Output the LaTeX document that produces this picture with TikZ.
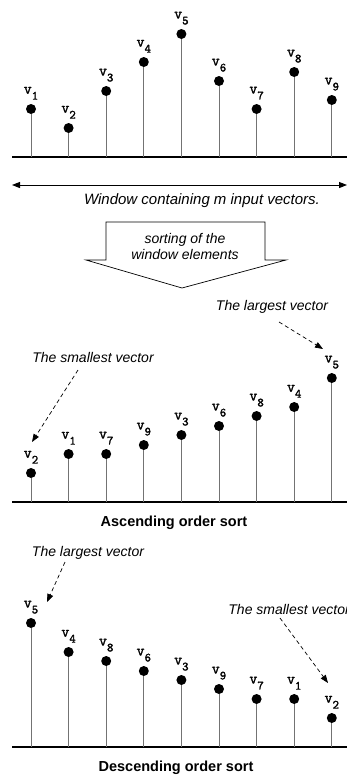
\documentclass[tikz,border=0pt]{standalone}
\usepackage{fontspec}
\setmainfont{Liberation Sans}
\newfontfamily\vecfont[FakeBold=1.6]{Latin Modern Mono}
\usetikzlibrary{arrows.meta}

% vector label: typewriter v with a lowered index
\newcommand{\vname}[1]{v\raisebox{-6pt}{\fontsize{12.5}{12}\selectfont #1}}

\begin{document}
\begin{tikzpicture}[x=1pt, y=-1pt,
  >={Triangle[length=8pt, width=6pt]},
  dot/.style={circle, fill=black, inner sep=0pt, minimum size=10pt},
  stem/.style={black!55, line width=1pt},
  axis/.style={line width=1.5pt},
  vlabel/.style={font=\vecfont\fontsize{15.5}{15}\selectfont,
                 inner sep=0pt, anchor=south},
  note/.style={font=\itshape\fontsize{14}{16}\selectfont, inner sep=1pt},
  title/.style={font=\bfseries\fontsize{14.5}{16}\selectfont, inner sep=1pt},
  pointer/.style={->, dash pattern=on 4pt off 3pt, line width=0.7pt},
]
\useasboundingbox (0,0) rectangle (347,777);

% input window
\coordinate (ax1l) at (12,157); \coordinate (ax1r) at (347,157);
\draw[axis] (ax1l) -- (ax1r);
\foreach \lab/\h [count=\i] in {1/109, 2/128, 3/91, 4/62, 5/34, 6/81, 7/109, 8/72, 9/100} {
  \coordinate (ab\i) at ({31+37.6*(\i-1)},157);
  \node[dot] (a\i) at ({31+37.6*(\i-1)},\h) {};
  \draw[stem] (ab\i) -- (a\i);
  \node[vlabel] (la\i) at ([yshift=4pt]a\i.north) {\vname{\lab}};
}
\coordinate (wl) at (12,185); \coordinate (wr) at (347,185);
\draw[<->, line width=1pt] (wl) -- (wr);
\node[note, font=\itshape\fontsize{15}{16}\selectfont] (win) at (202,201)
  {Window containing m input vectors.};

% sorting block arrow
\draw[line width=0.7pt] (106,222) -- (265,222) -- (265,260) -- (286,260)
  -- (182,288) -- (86,260) -- (106,260) -- cycle;
\node[note, align=center] (sortx) at (185,246) {sorting of the\\window elements};

% ascending order
\node[note] (big1) at (272,307) {The largest vector};
\node[note] (small1) at (93,357) {The smallest vector};
\coordinate (ax2l) at (12,502); \coordinate (ax2r) at (347,502);
\draw[axis] (ax2l) -- (ax2r);
\foreach \lab/\h [count=\i] in {2/473, 1/454, 7/454, 9/445, 3/435, 6/426, 8/416, 4/407, 5/378} {
  \coordinate (bb\i) at ({31+37.6*(\i-1)},502);
  \node[dot] (b\i) at ({31+37.6*(\i-1)},\h) {};
  \draw[stem] (bb\i) -- (b\i);
  \node[vlabel] (lb\i) at ([yshift=4pt]b\i.north) {\vname{\lab}};
}
\coordinate (p1s) at (279,322); \coordinate (p1e) at (323,349);
\draw[pointer] (p1s) -- (p1e);
\coordinate (p2s) at (78,370); \coordinate (p2e) at (32,442);
\draw[pointer] (p2s) -- (p2e);
\node[title] (asc) at (174,523) {Ascending order sort};

% descending order
\node[note] (big2) at (88,553) {The largest vector};
\node[note, anchor=east] (small2) at (351,609) {The smallest vector};
\coordinate (ax3l) at (12,747); \coordinate (ax3r) at (347,747);
\draw[axis] (ax3l) -- (ax3r);
\foreach \lab/\h [count=\i] in {5/623, 4/652, 8/661, 6/671, 3/680, 9/689, 7/699, 1/699, 2/718} {
  \coordinate (cb\i) at ({31+37.6*(\i-1)},747);
  \node[dot] (c\i) at ({31+37.6*(\i-1)},\h) {};
  \draw[stem] (cb\i) -- (c\i);
  \node[vlabel] (lc\i) at ([yshift=4pt]c\i.north) {\vname{\lab}};
}
\coordinate (p3s) at (65,562); \coordinate (p3e) at (47,602);
\draw[pointer] (p3s) -- (p3e);
\coordinate (p4s) at (280,618); \coordinate (p4e) at (328,683);
\draw[pointer] (p4s) -- (p4e);
\node[title] (desc) at (176,768) {Descending order sort};
\end{tikzpicture}
\end{document}
